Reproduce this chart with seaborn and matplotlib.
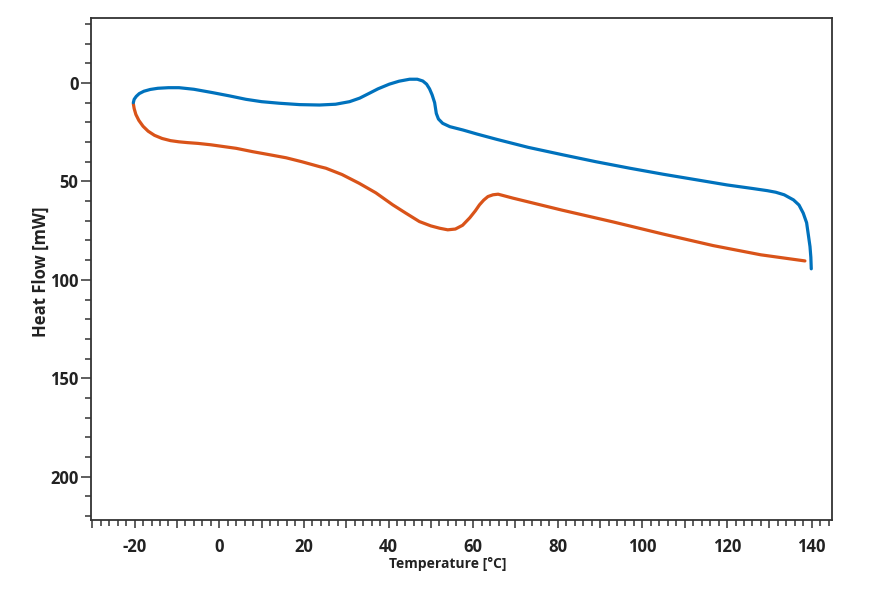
import numpy as np
import pandas as pd
import matplotlib
matplotlib.use("Agg")
import matplotlib.pyplot as plt
import seaborn as sns
from matplotlib.ticker import MultipleLocator, FuncFormatter

# ---- data ----
blue_temp = [-20.3, -20.1, -19.6, -18.9, -17.8, -16.3, -14.5, -12.0, -9.5, -6.0, -1.6, 2.5,
             6.3, 10.0, 14.2, 19.0, 23.7, 27.5, 30.8, 33.2, 35.5, 37.5, 40.2, 42.5,
             45.0, 46.8, 48.1, 49.0, 49.7, 50.3, 50.9, 51.3, 51.8, 52.8, 54.5, 57.6,
             61.0, 65.5, 73.0, 81.2, 89.0, 97.0, 105.0, 112.8, 120.0, 126.0, 129.5,
             131.5, 133.5, 135.7, 137.0, 138.0, 138.8, 139.2, 139.6, 139.8, 139.9]
blue_flow = [10.0, 8.3, 6.8, 5.4, 4.2, 3.3, 2.7, 2.4, 2.4, 3.2, 4.9, 6.6,
             8.3, 9.5, 10.3, 11.0, 11.2, 10.8, 9.5, 7.7, 5.2, 3.0, 0.6, -0.9,
             -1.9, -1.9, -1.0, 0.6, 3.0, 6.0, 10.0, 15.5, 18.3, 20.5, 22.2, 23.9,
             26.0, 28.6, 32.7, 36.5, 40.0, 43.3, 46.4, 49.2, 51.8, 53.6, 54.7,
             55.5, 56.8, 59.4, 62.0, 66.1, 71.0, 77.0, 83.1, 88.5, 94.4]

orange_temp = [-20.3, -20.1, -19.7, -19.0, -18.0, -16.8, -15.3, -13.5, -11.5, -9.5, -7.5,
               -5.0, -2.0, 0.0, 4.0, 7.9, 11.5, 15.8, 19.5, 23.7, 25.2, 29.0, 33.1,
               37.0, 41.0, 44.0, 47.3, 50.0, 52.1, 54.0, 55.8, 57.5, 59.2, 60.5, 61.5,
               62.5, 63.5, 64.7, 65.9, 69.4, 81.0, 93.1, 105.0, 116.7, 128.0, 138.4]
orange_flow = [10.5, 13.0, 16.0, 19.0, 22.0, 24.5, 26.6, 28.2, 29.3, 29.9, 30.3,
               30.7, 31.4, 32.0, 33.2, 34.9, 36.3, 38.0, 40.0, 42.5, 43.3, 46.5, 51.0,
               55.8, 61.9, 66.0, 70.4, 72.6, 73.8, 74.6, 74.2, 72.3, 68.5, 65.0, 61.9,
               59.5, 57.7, 56.8, 56.5, 58.5, 64.6, 70.6, 76.8, 82.6, 87.3, 90.4]

x_label_every = 20
y_ticks = [0, 50, 100, 150, 200]

df = pd.concat([
    pd.DataFrame({"Temperature": blue_temp, "Heat Flow": blue_flow, "run": "Cooling"}),
    pd.DataFrame({"Temperature": orange_temp, "Heat Flow": orange_flow, "run": "Heating"}),
], ignore_index=True)

sns.set_theme(style="white")
plt.rcParams["font.family"] = ["Open Sans", "DejaVu Sans"]
plt.rcParams["axes.unicode_minus"] = False

fig = plt.figure(figsize=(8.78, 5.89), dpi=100)
ax = fig.add_axes([91 / 878, 1 - 520 / 589, (832 - 91) / 878, (520 - 18) / 589])

for name, color in [("Heating", "#D95319"), ("Cooling", "#0072BD")]:
    sub = df[df["run"] == name]
    sns.lineplot(data=sub, x="Temperature", y="Heat Flow", sort=False, estimator=None,
                 color=color, linewidth=2.3, ax=ax, legend=False)

ax.set_xlim(-30.3, 144.8)
ax.set_ylim(222, -33)

ax.xaxis.set_major_locator(MultipleLocator(10))
ax.xaxis.set_minor_locator(MultipleLocator(2))
ax.xaxis.set_major_formatter(FuncFormatter(
    lambda v, p: f"{int(round(v))}" if int(round(v)) % x_label_every == 0 else ""))
ax.set_yticks(y_ticks)
ax.yaxis.set_minor_locator(MultipleLocator(10))

for s in ax.spines.values():
    s.set_color("#333333")
    s.set_linewidth(1.3)
    s.set_visible(True)

ax.tick_params(axis="both", which="both", direction="out", color="#333333",
               width=1.1, labelsize=12, labelcolor="#222222")
ax.tick_params(axis="y", which="major", length=7, pad=2, left=True)
ax.tick_params(axis="y", which="minor", length=4, left=True)
ax.tick_params(axis="x", which="major", length=6, pad=7, bottom=True)
ax.tick_params(axis="x", which="minor", length=4, bottom=True)
for lab in ax.get_xticklabels() + ax.get_yticklabels():
    lab.set_fontweight("bold")

ax.set_xlabel("Temperature [°C]", fontsize=10, fontweight="bold", color="#222222")
ax.set_ylabel("Heat Flow [mW]", fontsize=12, fontweight="bold", color="#222222")
ax.xaxis.set_label_coords(0.482, -0.073)
ax.yaxis.set_label_coords(-0.056, 0.494)
ax.grid(False)

fig.savefig("out.png", dpi=100)
